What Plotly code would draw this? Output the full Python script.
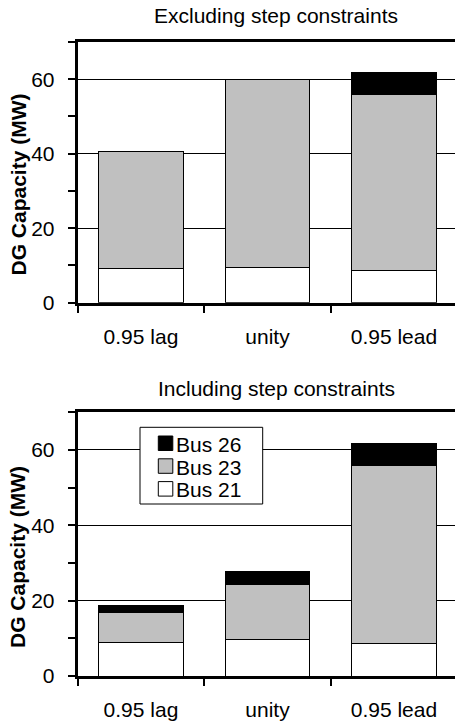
import plotly.graph_objects as go

categories = ["0.95 lag", "unity", "0.95 lead"]

# Excluding step constraints (MW)
excl_bus21 = [9.1, 9.5, 8.6]
excl_bus23 = [31.4, 50.4, 47.2]
excl_bus26 = [0.0, 0.0, 5.9]

# Including step constraints (MW)
incl_bus21 = [9.0, 9.6, 8.6]
incl_bus23 = [7.8, 14.8, 47.3]
incl_bus26 = [1.9, 3.3, 5.8]

series_names = ["Bus 21", "Bus 23", "Bus 26"]
series_colors = ["#ffffff", "#c0c0c0", "#000000"]

titles = ["Excluding step constraints", "Including step constraints"]
y_title = "DG Capacity (MW)"

W, H = 455, 725
FONT = "Arial, Liberation Sans, sans-serif"
FS = 21

fig = go.Figure()

panels = [
    ("x", "y", [excl_bus21, excl_bus23, excl_bus26]),
    ("x2", "y2", [incl_bus21, incl_bus23, incl_bus26]),
]
for xa, ya, vals in panels:
    for name, color, v in zip(series_names, series_colors, vals):
        fig.add_trace(go.Bar(
            x=categories, y=v, name=name, xaxis=xa, yaxis=ya,
            width=0.67, showlegend=False,
            marker=dict(color=color, line=dict(color="#000000", width=1)),
        ))

left_px = 77.7
x_dom = [left_px / W, 1.0]
cat_px = 126.5
x_range = [-0.5, -0.5 + (W - left_px) / cat_px]

def px_dom(top, bottom):
    return [1 - bottom / H, 1 - top / H]

xa_common = dict(
    type="category", range=x_range, domain=x_dom, automargin=False,
    tickson="boundaries", ticks="outside", ticklen=7, tickwidth=2, tickcolor="black",
    showline=True, linewidth=3, linecolor="black", mirror=True,
    showgrid=False, zeroline=False,
    tickfont=dict(family=FONT, size=FS, color="black"),
    ticklabelstandoff=13,
)
ya_common = dict(
    range=[0, 70], dtick=20, tick0=0, automargin=False,
    ticks="outside", ticklen=7, tickwidth=2, tickcolor="black",
    showline=True, linewidth=3, linecolor="black",
    showgrid=True, gridcolor="black", gridwidth=1, zeroline=False,
    tickfont=dict(family=FONT, size=FS, color="black"),
    minor=dict(dtick=10, tick0=0, ticks="outside", ticklen=7, tickwidth=2,
               tickcolor="black", showgrid=False),
    ticklabelstandoff=9,
)

fig.update_layout(
    width=W, height=H,
    margin=dict(l=0, r=0, t=0, b=0),
    paper_bgcolor="white", plot_bgcolor="white",
    barmode="stack",
    font=dict(family=FONT, size=FS, color="black"),
    xaxis=dict(anchor="y", **xa_common),
    yaxis=dict(anchor="x", domain=px_dom(42, 302.7), **ya_common),
    xaxis2=dict(anchor="y2", **xa_common),
    yaxis2=dict(anchor="x2", domain=px_dom(412.3, 676), **ya_common),
    showlegend=False,
)

def px(x):
    return x / W

def py(y):
    return 1 - y / H

annotations = [
    dict(text=titles[0], x=px(276), y=py(15)),
    dict(text=titles[1], x=px(276), y=py(388.5)),
]
for a in annotations:
    fig.add_annotation(xref="paper", yref="paper", xanchor="center", yanchor="middle",
                       showarrow=False, font=dict(family=FONT, size=FS, color="black"), **a)
for yc in (185, 557.5):
    fig.add_annotation(text="<b>" + y_title + "</b>", xref="paper", yref="paper",
                       x=px(17.5), y=py(yc), xanchor="center", yanchor="middle",
                       textangle=-90, showarrow=False,
                       font=dict(family=FONT, size=FS, color="black"))

# Legend box (for the lower panel), entries listed top-down: Bus 26, Bus 23, Bus 21
fig.add_shape(type="rect", xref="paper", yref="paper",
              x0=px(140), x1=px(262.7), y0=py(504), y1=py(427.3),
              line=dict(color="black", width=1), fillcolor="white", layer="above")
row_top = 436.0
row_gap = 22.8
sq = 14.5
for i, (name, color) in enumerate(zip(series_names[::-1], series_colors[::-1])):
    top = row_top + i * row_gap
    fig.add_shape(type="rect", xref="paper", yref="paper",
                  x0=px(158.3), x1=px(158.3 + sq), y0=py(top + sq), y1=py(top),
                  line=dict(color="black", width=1), fillcolor=color, layer="above")
    fig.add_annotation(text=name, xref="paper", yref="paper",
                       x=px(174), y=py(top + sq / 2 + 1), xanchor="left", yanchor="middle",
                       showarrow=False, font=dict(family=FONT, size=FS, color="black"))

post = (
    "document.documentElement.style.margin='0';"
    "document.documentElement.style.padding='0';"
    "document.documentElement.style.overflow='hidden';"
    "document.body.style.margin='0';"
    "document.body.style.padding='0';"
    "document.body.style.overflow='hidden';"
)
fig.write_html("out.html", post_script=post, config={"displayModeBar": False})
